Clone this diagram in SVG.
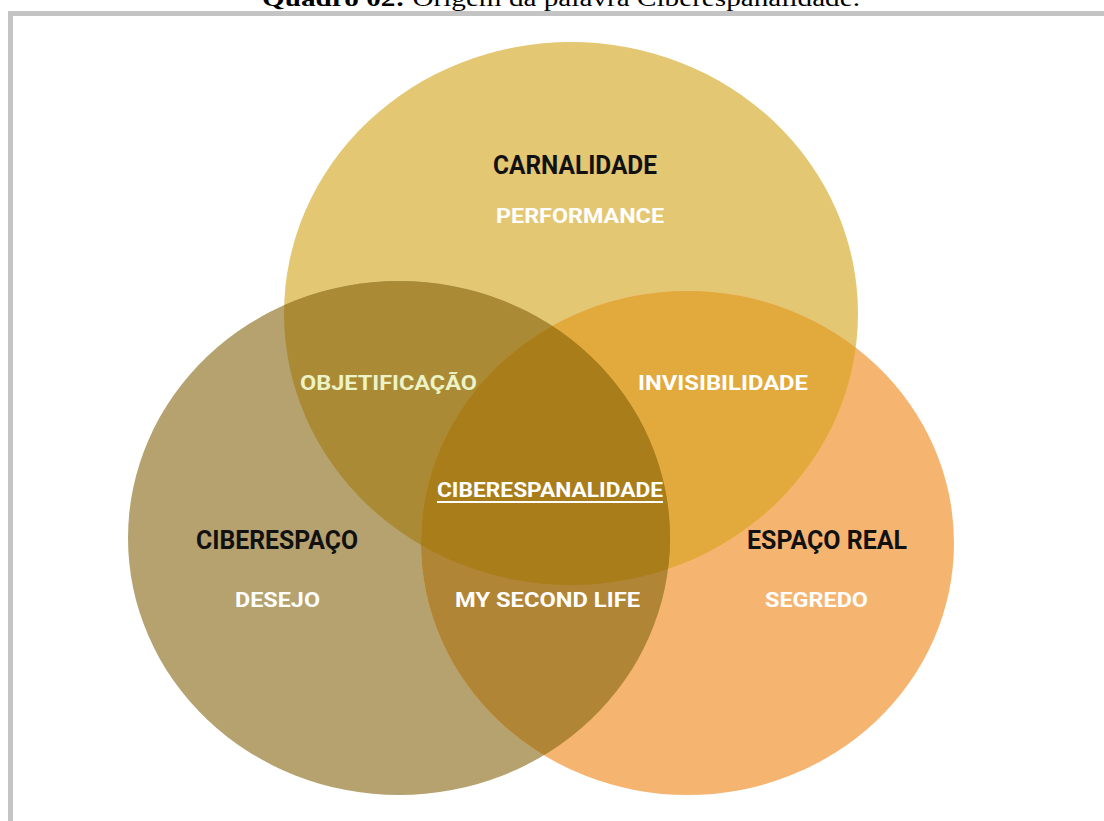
<svg xmlns="http://www.w3.org/2000/svg" width="1104" height="821" viewBox="0 0 1104 821">
<style>
.t{font-family:Roboto,"Liberation Sans",sans-serif;font-weight:700;}
.k{fill:#111;font-size:25px;}
.w{fill:#fff;font-size:21px;}
.g{fill:#ecf3c6;font-size:21px;}
</style>
<defs>
<clipPath id="cA"><ellipse cx="571" cy="313.5" rx="287" ry="271.5"/></clipPath>
<clipPath id="cB"><ellipse cx="399" cy="538" rx="271" ry="257"/></clipPath>
</defs>
<rect width="1104" height="821" fill="#fff"/>
<text x="262" y="6" font-family="'Liberation Serif',serif" font-size="23" fill="#000" textLength="598" lengthAdjust="spacingAndGlyphs"><tspan font-weight="700">Quadro 02:</tspan> Origem da palavra Ciberespanalidade.</text>
<rect x="10.5" y="13.5" width="1120" height="840" fill="none" stroke="#c4c4c4" stroke-width="5"/>
<g id="carnalidade">
<ellipse cx="571" cy="313.5" rx="287" ry="271.5" fill="#e4c773"/>
</g>
<g id="ciberespaco">
<ellipse cx="399" cy="538" rx="271" ry="257" fill="#b5a26f"/>
</g>
<g id="espaco-real">
<ellipse cx="687.5" cy="543" rx="266.5" ry="252" fill="#f5b571"/>
</g>
<g id="overlaps">
<ellipse cx="399" cy="538" rx="271" ry="257" fill="#aa8a35" clip-path="url(#cA)"/>
<ellipse cx="687.5" cy="543" rx="266.5" ry="252" fill="#e2aa3c" clip-path="url(#cA)"/>
<ellipse cx="687.5" cy="543" rx="266.5" ry="252" fill="#b08535" clip-path="url(#cB)"/>
<g clip-path="url(#cB)"><ellipse cx="687.5" cy="543" rx="266.5" ry="252" fill="#a87d1a" clip-path="url(#cA)"/></g>
</g>
<g id="labels">
<text class="t k" x="493" y="174" textLength="164" lengthAdjust="spacingAndGlyphs">CARNALIDADE</text>
<text class="t w" x="496" y="223" textLength="168" lengthAdjust="spacingAndGlyphs">PERFORMANCE</text>
<text class="t g" x="300" y="390" textLength="177" lengthAdjust="spacingAndGlyphs">OBJETIFICAÇÃO</text>
<text class="t w" x="638" y="390" textLength="170" lengthAdjust="spacingAndGlyphs">INVISIBILIDADE</text>
<text class="t w" x="437" y="497" textLength="226" lengthAdjust="spacingAndGlyphs">CIBERESPANALIDADE</text>
<rect x="437" y="501" width="226" height="2" fill="#fff"/>
<text class="t k" x="196" y="549" textLength="162" lengthAdjust="spacingAndGlyphs">CIBERESPAÇO</text>
<text class="t k" x="747" y="549" textLength="160" lengthAdjust="spacingAndGlyphs">ESPAÇO REAL</text>
<text class="t w" x="235" y="607" textLength="85" lengthAdjust="spacingAndGlyphs">DESEJO</text>
<text class="t w" x="455" y="607" textLength="185" lengthAdjust="spacingAndGlyphs">MY SECOND LIFE</text>
<text class="t w" x="765" y="607" textLength="103" lengthAdjust="spacingAndGlyphs">SEGREDO</text>
</g>
</svg>
